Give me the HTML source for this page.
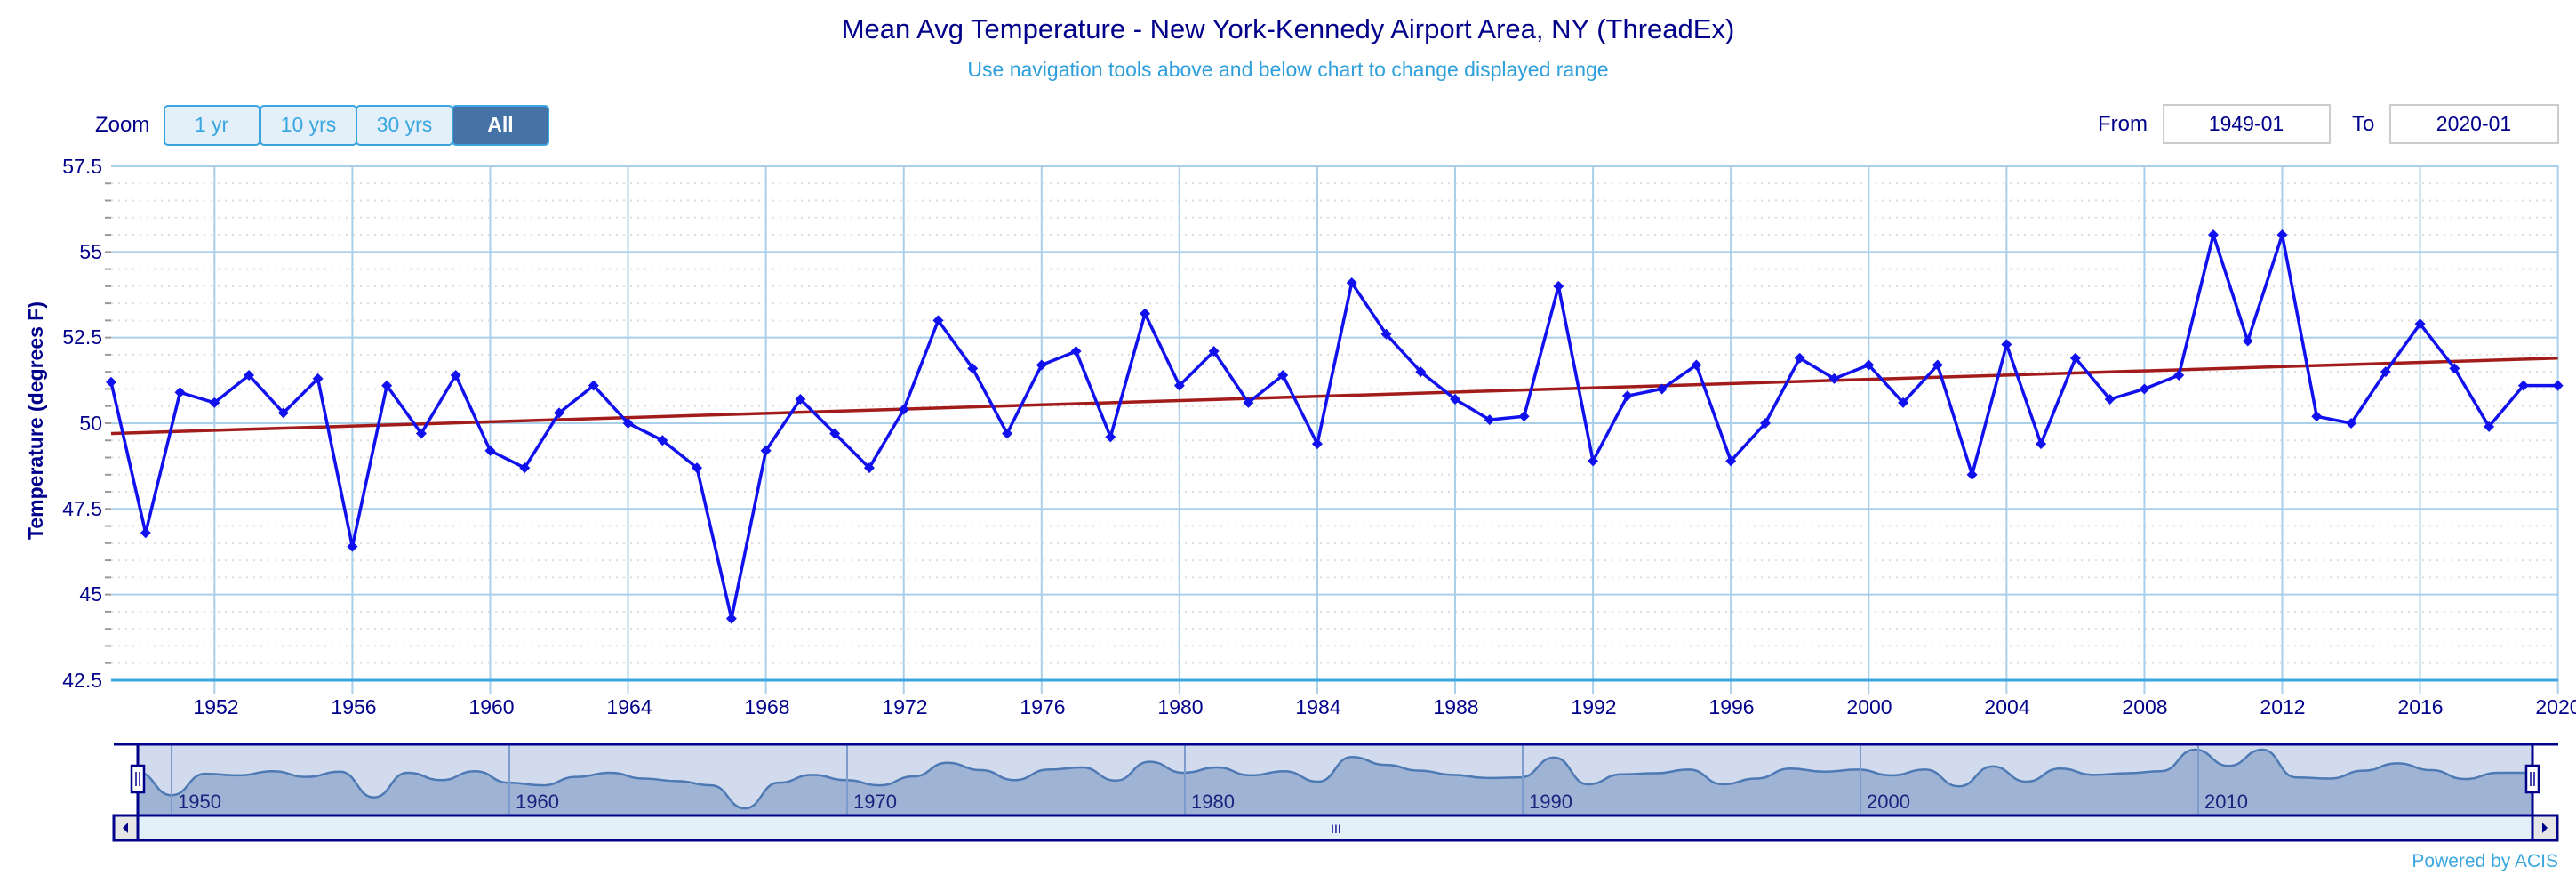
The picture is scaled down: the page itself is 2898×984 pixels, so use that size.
<!DOCTYPE html>
<html><head><meta charset="utf-8"><style>
body{margin:0;background:#fff;font-family:"Liberation Sans","DejaVu Sans",sans-serif;}
svg{display:block}
</style></head><body>
<svg id="s" width="2898" height="984" xmlns="http://www.w3.org/2000/svg" font-family="Liberation Sans, DejaVu Sans, sans-serif">
<text x="1449" y="43" text-anchor="middle" font-size="31" fill="#00008b">Mean Avg Temperature - New York-Kennedy Airport Area, NY (ThreadEx)</text>
<text x="1449" y="86" text-anchor="middle" font-size="23" fill="#2e9fdb">Use navigation tools above and below chart to change displayed range</text>
<text x="107" y="148" font-size="24" fill="#00008b">Zoom</text>
<g font-size="23" text-anchor="middle">
<rect x="185" y="119" width="107" height="44" rx="4" fill="#e3f0fa" stroke="#3aa6e0" stroke-width="2"/><text x="238" y="148" fill="#3aa6e0">1 yr</text>
<rect x="293" y="119" width="108" height="44" rx="4" fill="#e3f0fa" stroke="#3aa6e0" stroke-width="2"/><text x="347" y="148" fill="#3aa6e0">10 yrs</text>
<rect x="401" y="119" width="108" height="44" rx="4" fill="#e3f0fa" stroke="#3aa6e0" stroke-width="2"/><text x="455" y="148" fill="#3aa6e0">30 yrs</text>
<rect x="509" y="119" width="108" height="44" rx="4" fill="#4572a7" stroke="#3aa6e0" stroke-width="2"/><text x="563" y="148" fill="#fff" font-weight="bold">All</text>
</g>
<text x="2360" y="147" font-size="24" fill="#00008b">From</text>
<rect x="2434" y="118" width="187" height="43" fill="#fff" stroke="#ccc" stroke-width="2"/>
<text x="2527" y="147" font-size="23" text-anchor="middle" fill="#00008b">1949-01</text>
<text x="2646" y="147" font-size="24" fill="#00008b">To</text>
<rect x="2689" y="118" width="189" height="43" fill="#fff" stroke="#ccc" stroke-width="2"/>
<text x="2783" y="147" font-size="23" text-anchor="middle" fill="#00008b">2020-01</text>
<text transform="translate(48,473) rotate(-90)" text-anchor="middle" font-size="23" font-weight="bold" fill="#00008b">Temperature (degrees F)</text>
<g id="grid"></g>
<g font-size="23" fill="#00008b" text-anchor="end">
<text x="115" y="195">57.5</text><text x="115" y="291">55</text><text x="115" y="387">52.5</text><text x="115" y="484">50</text><text x="115" y="580">47.5</text><text x="115" y="676">45</text><text x="115" y="773">42.5</text>
</g>
<g font-size="23" fill="#00008b" text-anchor="middle">
<text x="243" y="803">1952</text><text x="398" y="803">1956</text><text x="553" y="803">1960</text><text x="708" y="803">1964</text><text x="863" y="803">1968</text><text x="1018" y="803">1972</text><text x="1173" y="803">1976</text><text x="1328" y="803">1980</text><text x="1483" y="803">1984</text><text x="1638" y="803">1988</text><text x="1793" y="803">1992</text><text x="1948" y="803">1996</text><text x="2103" y="803">2000</text><text x="2258" y="803">2004</text><text x="2413" y="803">2008</text><text x="2568" y="803">2012</text><text x="2723" y="803">2016</text><text x="2878" y="803">2020</text>
</g>
<g id="nav"></g>
<g font-size="22" fill="#1a237e">
<text x="200" y="909">1950</text><text x="580" y="909">1960</text><text x="960" y="909">1970</text><text x="1340" y="909">1980</text><text x="1720" y="909">1990</text><text x="2100" y="909">2000</text><text x="2480" y="909">2010</text>
</g>
<text x="2878" y="975" text-anchor="end" font-size="21" fill="#3aa6e0">Powered by ACIS</text>
</svg>
<script>
var v=[51.2,46.8,50.9,50.6,51.4,50.3,51.3,46.4,51.1,49.7,51.4,49.2,48.7,50.3,51.1,50.0,49.5,48.7,44.3,49.2,50.7,49.7,48.7,50.4,53.0,51.6,49.7,51.7,52.1,49.6,53.2,51.1,52.1,50.6,51.4,49.4,54.1,52.6,51.5,50.7,50.1,50.2,54.0,48.9,50.8,51.0,51.7,48.9,50.0,51.9,51.3,51.7,50.6,51.7,48.5,52.3,49.4,51.9,50.7,51.0,51.4,55.5,52.4,55.5,50.2,50.0,51.5,52.9,51.6,49.9,51.1,51.1];
var NS="http://www.w3.org/2000/svg";
function X(i){return 125+i*38.77}function Y(t){return 187+(57.5-t)*38.53}
function el(p,t,a){var e=document.createElementNS(NS,t);for(var k in a)e.setAttribute(k,a[k]);p.appendChild(e);return e}
var g=document.getElementById('grid');
for(var t=43;t<57.5;t+=0.5){if(t%2.5!=0)el(g,'line',{x1:125,x2:2878,y1:Y(t),y2:Y(t),stroke:'#ddd','stroke-width':2,'stroke-dasharray':'2 6'});el(g,'line',{x1:118,x2:125,y1:Y(t),y2:Y(t),stroke:'#999','stroke-width':2})}
for(var t=45;t<=57.5;t+=2.5)el(g,'line',{x1:125,x2:2878,y1:Y(t),y2:Y(t),stroke:'#a9cfea','stroke-width':2});
for(var yr=1952;yr<=2020;yr+=4)el(g,'line',{x1:X(yr-1949),x2:X(yr-1949),y1:187,y2:780,stroke:'#a9cfea','stroke-width':2});
el(g,'line',{x1:125,x2:2878,y1:765,y2:765,stroke:'#3aa6e0','stroke-width':3});
el(g,'line',{x1:X(0),y1:Y(49.7),x2:X(71),y2:Y(51.9),stroke:'#a31c1c','stroke-width':3.5});
var d='';v.forEach(function(t,i){d+=(i?'L':'M')+X(i).toFixed(1)+' '+Y(t).toFixed(1)});
el(g,'path',{d:d,fill:'none',stroke:'#1111ee','stroke-width':3.5,'stroke-linejoin':'round'});
v.forEach(function(t,i){var x=X(i),y=Y(t);el(g,'path',{d:'M'+x+' '+(y-6)+'L'+(x+6)+' '+y+'L'+x+' '+(y+6)+'L'+(x-6)+' '+y+'Z',fill:'#1111ee'})});
var n=document.getElementById('nav');
function NX(i){return 155+i*37.94}function NY(t){return 843+(55.5-t)*5.9}
el(n,'rect',{x:155,y:837,width:2694,height:80,fill:'#d2dbed'});
var p='M'+NX(0)+' '+NY(v[0]);
for(var i=0;i<v.length-1;i++){var x0=NX(i),x1=NX(i+1),h=(x1-x0)/2;p+='C'+(x0+h)+' '+NY(v[i])+' '+(x1-h)+' '+NY(v[i+1])+' '+x1+' '+NY(v[i+1])}
el(n,'path',{d:p+'L'+NX(71)+' 917L155 917Z',fill:'#9fb3d4'});
el(n,'path',{d:p,fill:'none',stroke:'#4d79b4','stroke-width':2.5});
for(var k=0;k<7;k++)el(n,'line',{x1:193+k*380,x2:193+k*380,y1:837,y2:917,stroke:'#7b9ccc','stroke-width':2});
el(n,'line',{x1:128,x2:2878,y1:837,y2:837,stroke:'#00008b','stroke-width':3});
el(n,'line',{x1:155,x2:155,y1:837,y2:917,stroke:'#00008b','stroke-width':3});
el(n,'line',{x1:2849,x2:2849,y1:837,y2:917,stroke:'#00008b','stroke-width':3});
el(n,'rect',{x:128,y:917,width:2749,height:28,fill:'#e3f0fa',stroke:'#00008b','stroke-width':3});
el(n,'rect',{x:128,y:917,width:27,height:28,fill:'#e6e6e6',stroke:'#00008b','stroke-width':3});
el(n,'rect',{x:2849,y:917,width:28,height:28,fill:'#e6e6e6',stroke:'#00008b','stroke-width':3});
el(n,'path',{d:'M138 931L144 925L144 937Z',fill:'#00008b'});
el(n,'path',{d:'M2866 931L2860 925L2860 937Z',fill:'#00008b'});
[155,2849].forEach(function(x){el(n,'rect',{x:x-7,y:861,width:14,height:30,fill:'#fff',stroke:'#00008b','stroke-width':2.5});el(n,'line',{x1:x-2,x2:x-2,y1:868,y2:884,stroke:'#00008b','stroke-width':1.5});el(n,'line',{x1:x+2,x2:x+2,y1:868,y2:884,stroke:'#00008b','stroke-width':1.5})});
el(n,'text',{x:1503,y:937,'font-size':14,fill:'#00008b','text-anchor':'middle'}).textContent='III';
</script>
</body></html>
